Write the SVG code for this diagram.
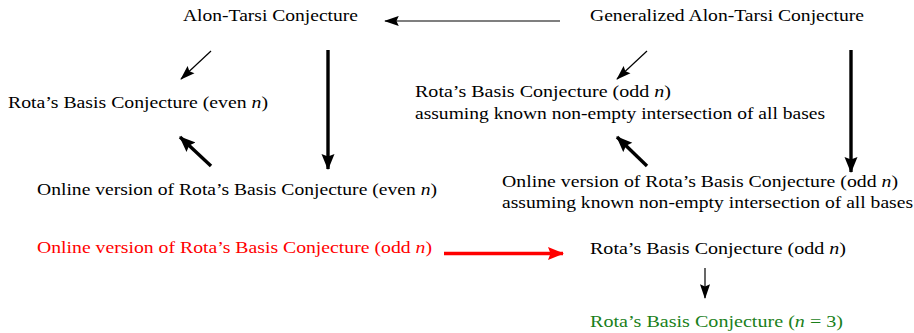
<svg xmlns="http://www.w3.org/2000/svg" width="914" height="333" viewBox="0 0 914 333">
  <style>
    text { font-family: "Liberation Serif", "DejaVu Serif", serif; font-size: 17px; fill: #000; }
    .red { fill: #ff0000; }
    .green { fill: #1a7f1a; }
    .thin { stroke: #000; stroke-width: 1.2; fill: none; }
    .thick { stroke: #000; stroke-width: 3.4; fill: none; }
    .redline { stroke: #ff0000; stroke-width: 3.6; fill: none; }
  </style>
  <defs>
    <marker id="headThin" markerUnits="userSpaceOnUse" viewBox="0 0 16 12" markerWidth="15" markerHeight="11" refX="15" refY="6" orient="auto">
      <path d="M0,0.5 L16,6 L0,11.5 L2.5,6 Z" fill="#000"/>
    </marker>
    <marker id="headThick" markerUnits="userSpaceOnUse" viewBox="0 0 16 14" markerWidth="16" markerHeight="14" refX="15" refY="7" orient="auto">
      <path d="M0,0.5 L16,7 L0,13.5 L2.5,7 Z" fill="#000"/>
    </marker>
    <marker id="headRed" markerUnits="userSpaceOnUse" viewBox="0 0 16 14" markerWidth="16" markerHeight="14" refX="15" refY="7" orient="auto">
      <path d="M0,0.5 L16,7 L0,13.5 L2.5,7 Z" fill="#ff0000"/>
    </marker>
  </defs>

  <g id="alon-tarsi">
    <text x="183" y="21" textLength="175" lengthAdjust="spacingAndGlyphs">Alon-Tarsi Conjecture</text>
  </g>
  <g id="generalized-alon-tarsi">
    <text x="590" y="21" textLength="274" lengthAdjust="spacingAndGlyphs">Generalized Alon-Tarsi Conjecture</text>
  </g>
  <g id="rbc-even">
    <text x="8" y="108" textLength="260" lengthAdjust="spacingAndGlyphs">Rota’s Basis Conjecture (even <tspan font-style="italic">n</tspan>)</text>
  </g>
  <g id="rbc-odd-intersection">
    <text x="415" y="97" textLength="256" lengthAdjust="spacingAndGlyphs">Rota’s Basis Conjecture (odd <tspan font-style="italic">n</tspan>)</text>
    <text x="415" y="119" textLength="410" lengthAdjust="spacingAndGlyphs">assuming known non-empty intersection of all bases</text>
  </g>
  <g id="online-even">
    <text x="37" y="195" textLength="400" lengthAdjust="spacingAndGlyphs">Online version of Rota’s Basis Conjecture (even <tspan font-style="italic">n</tspan>)</text>
  </g>
  <g id="online-odd-intersection">
    <text x="502" y="187" textLength="396" lengthAdjust="spacingAndGlyphs">Online version of Rota’s Basis Conjecture (odd <tspan font-style="italic">n</tspan>)</text>
    <text x="502" y="208" textLength="411" lengthAdjust="spacingAndGlyphs">assuming known non-empty intersection of all bases</text>
  </g>
  <g id="online-odd">
    <text class="red" x="37" y="253" textLength="395" lengthAdjust="spacingAndGlyphs">Online version of Rota’s Basis Conjecture (odd <tspan font-style="italic">n</tspan>)</text>
  </g>
  <g id="rbc-odd">
    <text x="590" y="254" textLength="256" lengthAdjust="spacingAndGlyphs">Rota’s Basis Conjecture (odd <tspan font-style="italic">n</tspan>)</text>
  </g>
  <g id="rbc-n3">
    <text class="green" x="590" y="327" textLength="253" lengthAdjust="spacingAndGlyphs">Rota’s Basis Conjecture (<tspan font-style="italic">n</tspan> = 3)</text>
  </g>

  <g id="connectors">
    <line class="thin" x1="560" y1="21" x2="385" y2="21" marker-end="url(#headThin)"/>
    <line class="thin" x1="211" y1="51" x2="181" y2="79" marker-end="url(#headThin)"/>
    <line class="thick" x1="328" y1="50" x2="328" y2="169" marker-end="url(#headThick)"/>
    <line class="thick" x1="211" y1="166" x2="180" y2="137" marker-end="url(#headThick)"/>
    <line class="thin" x1="647" y1="51" x2="617" y2="79" marker-end="url(#headThin)"/>
    <line class="thick" x1="851" y1="50" x2="851" y2="172" marker-end="url(#headThick)"/>
    <line class="thick" x1="647" y1="166" x2="617" y2="137" marker-end="url(#headThick)"/>
    <line class="redline" x1="444" y1="253.5" x2="563" y2="253.5" marker-end="url(#headRed)"/>
    <line class="thin" x1="705" y1="268" x2="705" y2="298" marker-end="url(#headThin)"/>
  </g>
</svg>
